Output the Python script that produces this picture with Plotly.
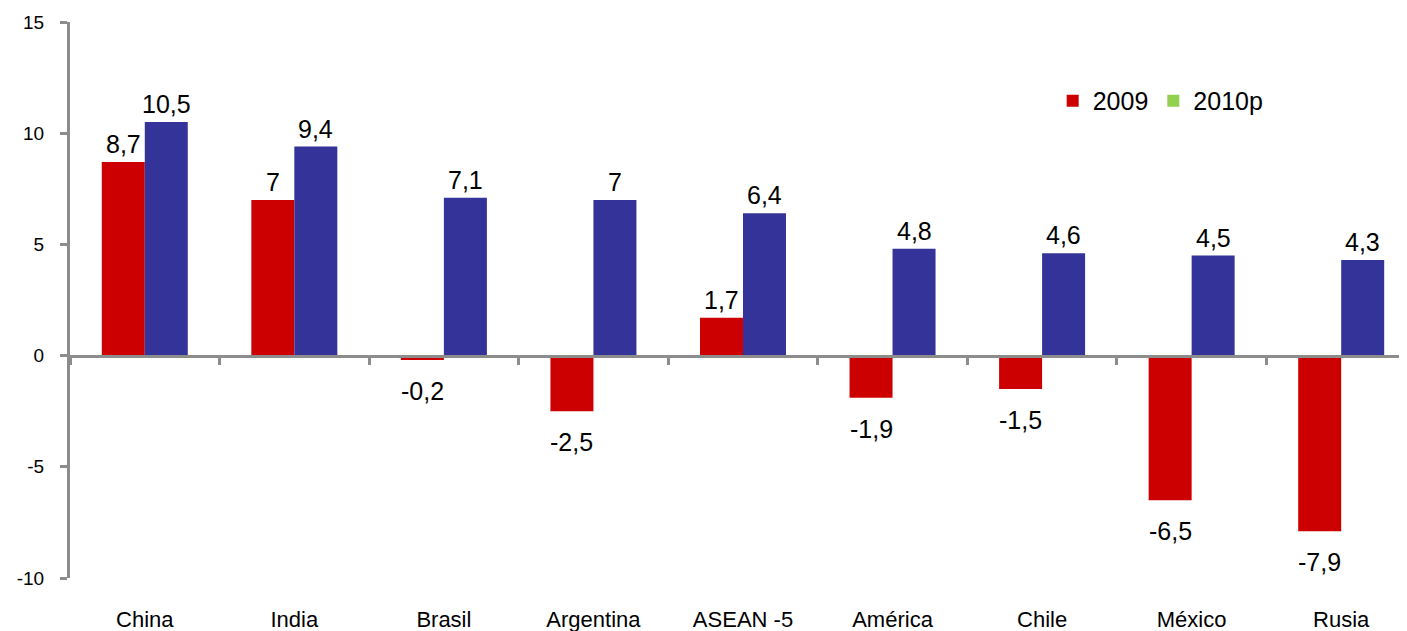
import plotly.graph_objects as go

categories = ["China", "India", "Brasil", "Argentina", "ASEAN -5", "América", "Chile", "México", "Rusia"]
values_2009 = [8.7, 7.0, -0.2, -2.5, 1.7, -1.9, -1.5, -6.5, -7.9]
values_2010p = [10.5, 9.4, 7.1, 7.0, 6.4, 4.8, 4.6, 4.5, 4.3]
series_names = ["2009", "2010p"]
y_ticks = [-10, -5, 0, 5, 10, 15]

RED = "#CC0000"
BLUE = "#333399"
GREEN = "#92D050"
GRAY = "#8C8C8C"
FONT = "Liberation Sans, Arial, sans-serif"


def fmt(v):
    return f"{v:g}".replace(".", ",")


fig = go.Figure()
fig.add_trace(go.Bar(x=categories, y=values_2009, marker=dict(color=RED, line=dict(width=0)),
                     name=series_names[0], showlegend=False, hoverinfo="x+y"))
fig.add_trace(go.Bar(x=categories, y=values_2010p, marker=dict(color=BLUE, line=dict(width=0)),
                     name=series_names[1], showlegend=False, hoverinfo="x+y"))

# legend entries (legend swatch colours as in the original)
fig.add_trace(go.Scatter(x=[None], y=[None], mode="markers", name=series_names[0],
                         marker=dict(symbol="square", size=18, color=RED)))
fig.add_trace(go.Scatter(x=[None], y=[None], mode="markers", name=series_names[1],
                         marker=dict(symbol="square", size=18, color=GREEN)))

# invisible trace to carry the zero-line category axis
fig.add_trace(go.Scatter(x=categories, y=[0] * len(categories), xaxis="x2", mode="markers",
                         marker=dict(opacity=0), showlegend=False, hoverinfo="skip"))

annotations = []
half = 21.5
for vals, shift in ((values_2009, -half), (values_2010p, half)):
    for c, v in zip(categories, vals):
        annotations.append(dict(
            x=c, y=v, xref="x", yref="y", text=fmt(v), showarrow=False,
            xshift=shift, yshift=18 if v >= 0 else -31, yanchor="middle",
            font=dict(family=FONT, size=25, color="#000000")))

xr = [-0.5, 8.44]
# the page adds an 8px body margin, so the figure is 8px smaller than the window
fig.update_layout(
    width=1399, height=623,
    margin=dict(l=62, r=0, t=14, b=53, autoexpand=False),
    paper_bgcolor="white", plot_bgcolor="white",
    barmode="group", bargap=0.425, bargroupgap=0,
    font=dict(family=FONT, color="#000000"),
    annotations=annotations,
    showlegend=True,
    legend=dict(orientation="h", x=0.735, y=0.858, xanchor="left", yanchor="middle",
                font=dict(family=FONT, size=25), bgcolor="rgba(0,0,0,0)",
                itemsizing="constant", traceorder="normal"),
    xaxis=dict(type="category", categoryorder="array", categoryarray=categories, range=xr,
               showline=False, ticks="", showgrid=False, zeroline=False, automargin=False,
               tickfont=dict(family=FONT, size=22), ticklabelstandoff=26),
    xaxis2=dict(type="category", categoryorder="array", categoryarray=categories, range=xr,
                overlaying="x", anchor="free", position=0.4, side="bottom", automargin=False,
                showline=True, linecolor=GRAY, linewidth=3,
                ticks="outside", tickson="boundaries", ticklen=7, tickwidth=3, tickcolor=GRAY,
                showticklabels=False, showgrid=False, zeroline=False),
    yaxis=dict(range=[-10, 15], tickvals=y_ticks, ticktext=[str(t) for t in y_ticks],
               showgrid=False, zeroline=False, automargin=False,
               showline=True, linecolor=GRAY, linewidth=3,
               ticks="outside", ticklen=7, tickwidth=3, tickcolor=GRAY,
               tickfont=dict(family=FONT, size=19), ticklabelstandoff=12),
)

fig.write_html("out.html")
